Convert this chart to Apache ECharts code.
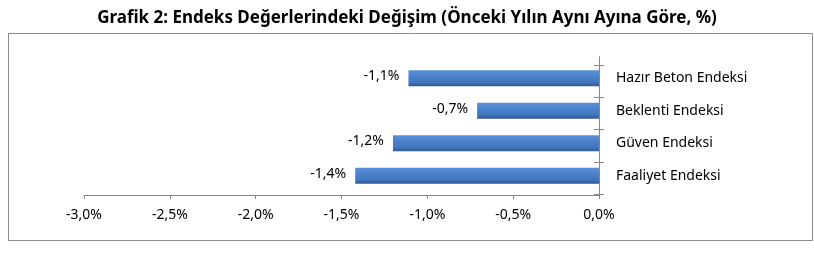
<!DOCTYPE html>
<html>
<head>
<meta charset="utf-8">
<script src="https://cdn.jsdelivr.net/npm/echarts@6/dist/echarts.min.js"></script>
<style>html,body{margin:0;padding:0;background:#fff}#c{width:814px;height:255px}</style>
</head>
<body>
<div id="c"></div>
<script>
const titleText = 'Grafik 2: Endeks Değerlerindeki Değişim (Önceki Yılın Aynı Ayına Göre, %)';
const categories = ['Hazır Beton Endeksi', 'Beklenti Endeksi', 'Güven Endeksi', 'Faaliyet Endeksi'];
const values = [-1.11, -0.71, -1.20, -1.42];
const xMin = -3.0, xMax = 0.0, xStep = 0.5;

const FONT = "'Noto Sans', sans-serif";
const fmt = v => v.toFixed(1).replace('.', ',') + '%';
const G = {left: 84, width: 515};

const chart = echarts.init(document.getElementById('c'), null, {renderer: 'canvas'});
chart.setOption({
  animation: false,
  title: {
    text: titleText, left: 'center', top: 5,
    textStyle: {fontFamily: FONT, fontWeight: 'bold', fontSize: 17, color: '#000'}
  },
  graphic: [{
    type: 'rect', shape: {x: 8.5, y: 33.5, width: 804, height: 207},
    style: {fill: 'none', stroke: '#8c8c8c', lineWidth: 1}, z: -1
  }],
  grid: [
    {left: G.left, width: G.width, top: 57, height: 138},
    {left: G.left, width: G.width, top: 62, height: 130},
    {left: G.left, width: G.width, top: 65, height: 129}
  ],
  xAxis: [
    {gridIndex: 0, type: 'value', min: xMin, max: xMax, interval: xStep,
     axisLine: {show: true, lineStyle: {color: '#868686'}},
     axisTick: {show: true, length: 4, lineStyle: {color: '#868686'}},
     splitLine: {show: false},
     axisLabel: {formatter: fmt, margin: 13, fontFamily: FONT, fontSize: 14, color: '#000'}},
    {gridIndex: 1, type: 'value', min: xMin, max: xMax, show: false},
    {gridIndex: 2, type: 'value', min: xMin, max: xMax, show: false}
  ],
  yAxis: [
    {gridIndex: 0, type: 'value', min: 0, max: 1, position: 'left',
     axisLine: {show: true, lineStyle: {color: '#868686'}}, axisTick: {show: false},
     axisLabel: {show: false}, splitLine: {show: false}},
    {gridIndex: 0, type: 'value', min: 0, max: 1, position: 'right',
     axisLine: {show: true, lineStyle: {color: '#868686'}}, axisTick: {show: false},
     axisLabel: {show: false}, splitLine: {show: false}},
    {gridIndex: 1, type: 'category', data: categories, inverse: true, position: 'right',
     axisLine: {show: false}, axisTick: {show: false}, splitLine: {show: false},
     axisLabel: {margin: 17, fontFamily: FONT, fontSize: 14, color: '#000'}},
    {gridIndex: 2, type: 'category', data: categories, inverse: true, position: 'right',
     axisLine: {show: false}, axisLabel: {show: false}, splitLine: {show: false},
     axisTick: {show: true, length: 5, lineStyle: {color: '#868686'}}},
    {gridIndex: 2, type: 'category', data: categories, inverse: true, position: 'right',
     axisLine: {show: false}, axisLabel: {show: false}, splitLine: {show: false},
     axisTick: {show: true, inside: true, length: 5, lineStyle: {color: '#868686'}}}
  ],
  series: [{
    type: 'bar', xAxisIndex: 1, yAxisIndex: 2, data: values, barWidth: 16,
    itemStyle: {color: new echarts.graphic.LinearGradient(0, 0, 0, 1, [
      {offset: 0, color: '#5890d8'}, {offset: 0.75, color: '#4275bd'}, {offset: 1, color: '#2d5a92'}])},
    label: {show: true, position: 'left', distance: 9, offset: [0, -2], formatter: p => fmt(p.value),
      fontFamily: FONT, fontSize: 14, color: '#000'}
  }]
});
</script>
</body>
</html>
